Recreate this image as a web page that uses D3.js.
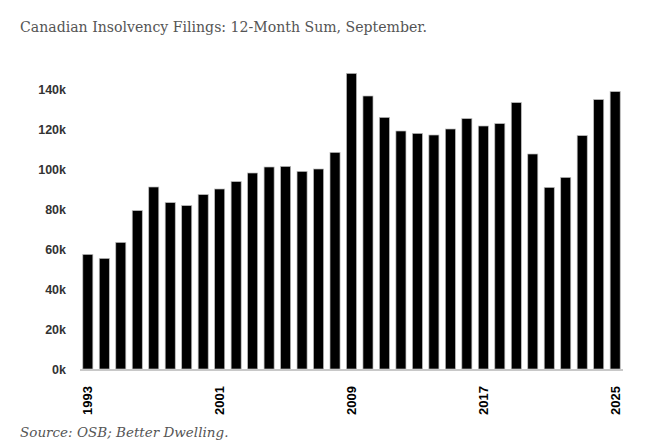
<!DOCTYPE html>
<html>
<head>
    <title>Canadian Insolvency Filings</title>
    <script src="https://cdn.jsdelivr.net/npm/d3@7/dist/d3.min.js" type="text/javascript"></script>
    <style type="text/css">
        body { margin: 0; background: #fff; }
    </style>
</head>
<body>
<div id="chart"></div>
<script type="text/javascript">
    // 12-month sum of filings, thousands, September of each year
    var years = d3.range(1993, 2026);
    var filings = [57.3, 55.3, 63.3, 79.2, 91.0, 83.2, 81.7, 87.2, 90.0, 93.7, 98.0,
                   101.0, 101.3, 98.8, 100.0, 108.3, 147.8, 136.5, 125.8, 119.0, 117.8,
                   117.0, 120.0, 125.2, 121.5, 122.7, 133.2, 107.5, 90.8, 95.8, 116.7,
                   134.7, 138.7];
    var yTicks = [0, 20, 40, 60, 80, 100, 120, 140];
    var yearLabels = [1993, 2001, 2009, 2017, 2025];

    var width = 660, height = 448;
    var svg = d3.select('#chart').append('svg')
        .attr('width', width)
        .attr('height', height);

    var x = d3.scaleBand()
        .domain(years)
        .range([80, 623])
        .paddingInner(0.39)
        .paddingOuter(0.17);

    var y = d3.scaleLinear()
        .domain([0, 140])
        .range([369, 89]);

    svg.append('text')
        .attr('x', 20)
        .attr('y', 32)
        .attr('font-family', 'DejaVu Serif')
        .attr('font-size', 14.1)
        .attr('fill', '#555')
        .text('Canadian Insolvency Filings: 12-Month Sum, September.');

    // y axis labels only, no line
    var yAxis = d3.axisLeft(y)
        .tickValues(yTicks)
        .tickSize(0)
        .tickPadding(0)
        .tickFormat(function(d) { return d + 'k'; });
    var gy = svg.append('g')
        .attr('transform', 'translate(66,0)')
        .call(yAxis);
    gy.select('.domain').remove();
    gy.selectAll('text')
        .attr('font-family', 'Liberation Sans, Arial, sans-serif')
        .attr('font-size', 12.5)
        .attr('font-weight', 'bold')
        .attr('fill', '#333');

    svg.selectAll('rect.bar')
        .data(filings)
        .enter().append('rect')
        .attr('class', 'bar')
        .attr('x', function(d, i) { return x(years[i]); })
        .attr('width', x.bandwidth())
        .attr('y', function(d) { return y(d); })
        .attr('height', function(d) { return y(0) - y(d); })
        .attr('fill', '#000')
        .attr('stroke', '#bbb')
        .attr('stroke-width', 0.7);

    // baseline
    svg.append('line')
        .attr('x1', 80).attr('x2', 623)
        .attr('y1', 370).attr('y2', 370)
        .attr('stroke', '#c8c8c8')
        .attr('stroke-width', 2);

    var xAxis = d3.axisBottom(x)
        .tickValues(yearLabels)
        .tickSize(0)
        .tickPadding(0);
    var gx = svg.append('g')
        .attr('transform', 'translate(0,386)')
        .call(xAxis);
    gx.select('.domain').remove();
    gx.selectAll('text')
        .attr('transform', 'rotate(-90)')
        .attr('text-anchor', 'end')
        .attr('dy', '0.35em')
        .attr('x', 0)
        .attr('y', 0)
        .attr('font-family', 'Liberation Sans, Arial, sans-serif')
        .attr('font-size', 13)
        .attr('font-weight', 'bold')
        .attr('fill', '#000');

    svg.append('text')
        .attr('x', 20)
        .attr('y', 437)
        .attr('font-family', 'DejaVu Serif')
        .attr('font-style', 'italic')
        .attr('font-size', 13.5)
        .attr('fill', '#555')
        .text('Source: OSB; Better Dwelling.');
</script>
</body>
</html>
